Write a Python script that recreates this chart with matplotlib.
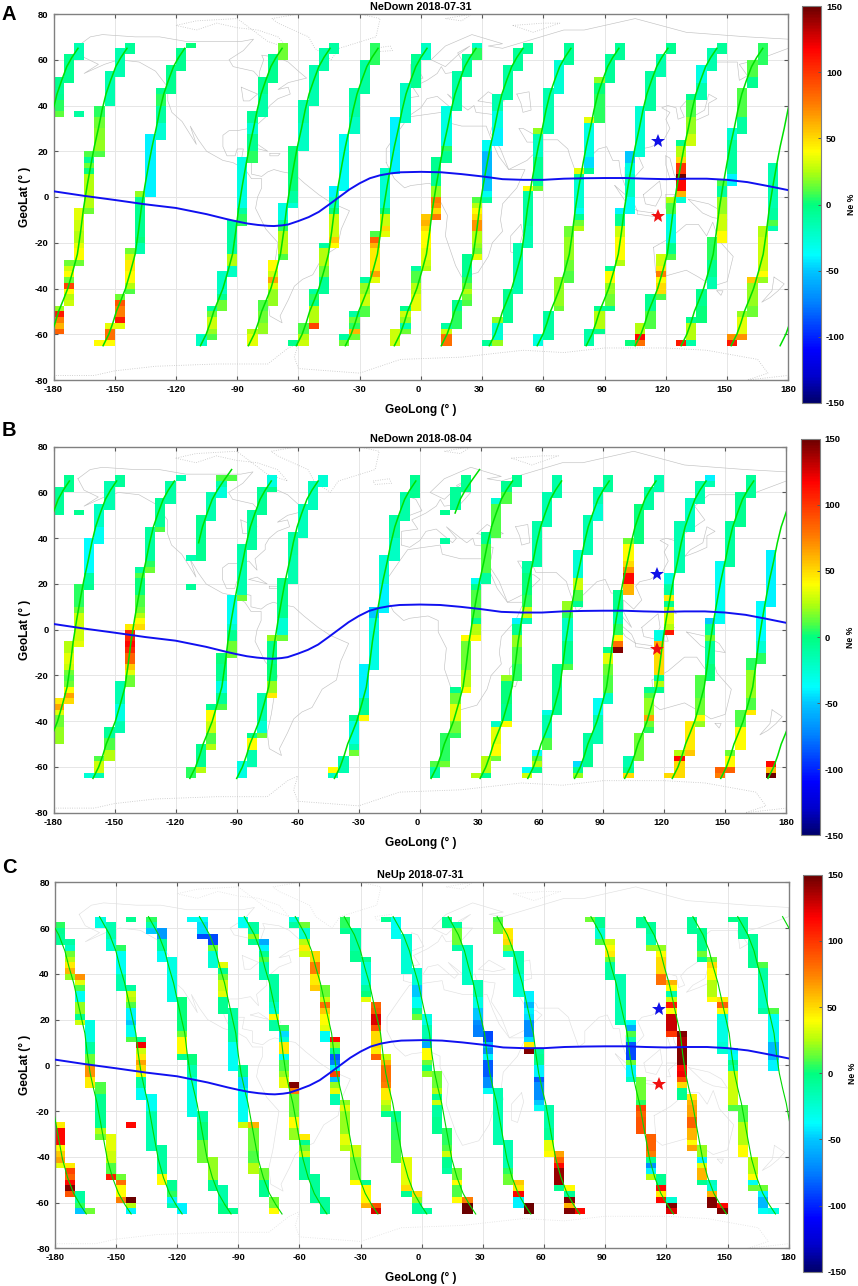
import numpy as np
import matplotlib
matplotlib.use('Agg')
import matplotlib.pyplot as plt
from matplotlib.colors import LinearSegmentedColormap
from matplotlib.transforms import ScaledTranslation

plt.rcParams['font.family'] = ['Liberation Sans', 'DejaVu Sans']
plt.rcParams['font.weight'] = 'bold'
plt.rcParams['axes.unicode_minus'] = False

# columns: (left longitude, top latitude, Ne % per 2.5 deg row going south)
ne_down_0731 = [
    (-180, 52.5, [-5, -5, -8, -5, 5, 5, 12]), (-180, -47.5, [20, 110, 75, 60, 85]),
    (-175, 62.5, [-5, -5, -5, -5, -5]), (-175, -27.5, [15, 30, 40, 15, 95, 40, 25, 30]),
    (-170, 67.5, [-15, -15, -15]), (-170, 37.5, [-10]), (-170, -5, [35, 35, 30, 30, 25, 25, 35, 40, 40, 15]),
    (-165, 20, [10, -5, 15, 0, 25, 25, 25, 25, 25, 25, 15]),
    (-160, 40, [5, 5, 15, 15, 18, 18, 20, 20, 10]), (-160, -62.5, [40]),
    (-155, 55, [-15, -15, -15, -15, -15, -15]), (-155, -55, [35, 80, 80, 40]),
    (-150, 65, [-15, -15, -15, -15, -15]), (-150, -42.5, [15, 90, 75, 75, 110, 35]),
    (-145, 67.5, [-8, -8]), (-145, -22.5, [15, 30, 45, 45, 40, 40, 25, 10]),
    (-140, 2.5, [20, -5, -5, -5, -5, -5, -5, -5, 0, -15, -15]),
    (-135, 27.5, [-40, -40, -40, -40, -40, -40, -40, -40, -40, -40, -40]),
    (-130, 47.5, [-5, 5, 5, -10, -10, -10, -25, -25, -25]),
    (-125, 57.5, [-5, -5, -5, -5, -5]), (-120, 65, [-5, -5, -5, -5]), (-115, 67.5, [0]),
    (-110, -60, [-20, -20]), (-105, -47.5, [-10, 15, 30, 30, 20, 10]),
    (-100, -32.5, [-20, -20, -20, -20, -5, 15, 15]),
    (-95, -10, [-10, -10, -10, -10, -10, -10, 25, 25, -20, -20]),
    (-90, 17.5, [-30, -30, -30, -30, -30, -30, -30, -30, -30, -10, 5, 5]),
    (-85, 37.5, [-8, -8, -25, -25, -5, -5, -5, 5, 5]), (-85, -57.5, [25, 35, 35]),
    (-80, 52.5, [-5, -5, -5, -12, -12, -12, -12]), (-80, -45, [10, 10, 15, 15, 20, 20]),
    (-75, 62.5, [-5, -5, -5, -5, -5]), (-75, -27.5, [40, 40, 30, 65, 35, 20, 20, 20]),
    (-70, 67.5, [15, 15, 15]), (-70, -2.5, [-30, -30, -30, -10, 5, 25, 25, 25, 25, 10]),
    (-65, 22.5, [0, 0, 0, 0, 0, 0, 0, 0, -10, -10, -25]), (-65, -62.5, [-5]),
    (-60, 42.5, [-15, -15, -15, -15, -20, -20, -20, -20, -20]), (-60, -55, [10, 10, 25, 30]),
    (-55, 57.5, [-15, -15, -15, -15, -15, -15, -15]), (-55, -40, [-10, 5, -5, 25, 25, 25, 95]),
    (-50, 65, [-12, -12, -12, -12]), (-50, -20, [-10, 25, 25, 25, 15, 15, -8, -8, -8]),
    (-45, 67.5, [-10, -10]), (-45, 5, [-40, -40, -20, -20, 0, 30, 30, 30, 30, 55, 40]),
    (-40, 27.5, [-35, -35, -35, -35, -35, -35, -35, -35, -35, -35]), (-40, -60, [-10, 15]),
    (-35, 47.5, [-12, -12, -12, -12, -12, -20, -20, -20]), (-35, -50, [-10, 15, 5, 60, 15]),
    (-30, 60, [-10, -10, -10, -10, -10, -10]), (-30, -35, [-10, 20, 20, 30, 30, 10, 10]),
    (-25, 67.5, [5, 5, 5, 5]), (-25, -15, [10, 85, 60, 45, 45, 45, 45, 65, 35]),
    (-20, 12.5, [-20, -20, -25, -25, -25, -25, -25, 0, 30, 30, 50, 35]),
    (-15, 35, [-40, -40, -40, -40, -40, -40, -40, -40, -40, -40]), (-15, -57.5, [30, 30, 30]),
    (-10, 50, [-20, -20, -20, -20, -20, -20, -20]), (-10, -47.5, [-5, 30, 20, -15, 15]),
    (-5, 62.5, [-5, -5, -5, -5, -5, -5]), (-5, -30, [-10, 10, 10, 25, 25, 35, 35, 35]),
    (0, 67.5, [-20, -20, -20]), (0, -7.5, [55, 60, 50, 40, 40, 40, 35, 35, 30, 25]),
    (5, 17.5, [-5, -5, -5, -5, -5, 20, 20, 75, 70, 50, 75]),
    (10, 40, [-30, -30, -30, -30, -30, -30, -30, 5, -5, -5]), (10, -55, [-10, 30, 80, 80]),
    (15, 55, [-12, -12, -12, -12, -12, -12, -12]), (15, -45, [-5, -5, 5, 5, 5]),
    (20, 62.5, [-8, -8, -8, -8]), (20, -25, [-5, -5, -5, -5, 5, 15, 25, 15, 10]),
    (25, 67.5, [-20, 5, 5]), (25, 0, [10, 25, 40, 50, 70, 70, 25, 25, 20, 15, 35]),
    (30, 25, [-35, -35, -55, -55, -55, -55, -55, -50, -50, -35, -10]), (30, -62.5, [-8]),
    (35, 45, [-15, -15, -15, -30, -30, -30, -40, -40, -40]), (35, -52.5, [20, -25, -25, -25, 20]),
    (40, 57.5, [-10, -10, -10, -10, -10, -10]), (40, -40, [-5, -5, -5, -5, -5, -5]),
    (45, 65, [-8, -8, -8, -8]), (45, -20, [-15, -15, -15, -15, -15, -15, -15, -15, -15]),
    (50, 67.5, [-8, -8]), (50, 5, [40, -10, -10, -10, -10, -10, -10, -15, -15, -15, -15]),
    (55, 30, [20, -15, -20, -20, -20, -5, -5, -5, -5, -5, 15]), (55, -60, [-30, -30]),
    (60, 47.5, [-15, -15, -15, -15, -15, -15, -15, -15]), (60, -50, [-10, -10, -10, -10, -10]),
    (65, 60, [-25, -25, -25, -25, -25, -25]), (65, -35, [20, 20, 20, 20, 20, 15]),
    (70, 67.5, [-8, -8, -8, -8]), (70, -12.5, [15, 15, 20, 20, 20, 20, 15, 15, 10, 10]),
    (75, 12.5, [35, -5, -25, -25, -25, -25, -25, -35, -5, 15, 25]),
    (80, 35, [35, -30, -30, -30, -30, -30, -30, -45, -45, -5]), (80, -57.5, [-12, -12, -12]),
    (85, 52.5, [20, 0, 0, 5, 5, 5, 5, 5]), (85, -47.5, [-5, 25, 25, 25, -5]),
    (90, 62.5, [-8, -8, -8, -8, -8]), (90, -30, [-5, 40, 40, 20, 20, 15, 15, -5]),
    (95, 67.5, [-8, -8, -8]), (95, -5, [-40, -5, -5, 30, 30, 40, 40, 40, 40, 25]),
    (100, 20, [-50, -50, -30, -30, -20, -20, -20, -20, -35, -35, -35]), (100, -62.5, [0]),
    (105, 40, [-25, -25, -25, -25, -25, -25, -25, -25, -25]), (105, -55, [25, 25, 115, 80]),
    (110, 55, [-10, -10, -10, -10, -10, -10, -10]), (110, -42.5, [-5, -5, -5, 10, 10, 10]),
    (115, 62.5, [-15, -15, -15, -15]), (115, -25, [30, 30, 45, 75, 40, 50, 50, 10]),
    (120, 67.5, [-5, -5]), (120, 0, [25, 10, 10, -30, -30, -30, -30, -30, -5, -5, 10]),
    (125, 25, [-5, 25, 25, 50, 100, 100, 150, 115, 115, 60, -25]), (125, -62.5, [110]),
    (130, 45, [-5, 10, 10, 10, 20, 20, 20, 30, 30]), (130, -52.5, [-5, 25, 25, 25, -12]),
    (135, 57.5, [-30, -30, -30, -15, -15, -15]), (135, -40, [-5, -5, -5, 0, 0, 0]),
    (140, 65, [-15, -15, -15, -15]), (140, -17.5, [5, 5, 5, 5, -5, -5, -5, -15, -15]),
    (145, 67.5, [-8, -8]), (145, 7.5, [10, -10, -10, 20, 20, 20, 30, 30, 30, 40, 40]),
    (150, 30, [-25, -25, -10, -10, -10, -10, -10, -10, -40, -40]), (150, -60, [70, 110]),
    (155, 47.5, [10, 10, 10, 10, 10, -10, -10, -10]), (155, -50, [20, 35, 35, 35, 70]),
    (160, 60, [10, 10, 10, -5, -5]), (160, -35, [55, 20, 20, 20, 20, 15, 15]),
    (165, 67.5, [5, 5, 5, 5]), (165, -12.5, [25, 25, 30, 30, 30, 30, 30, 30, 40, 20]),
    (170, 15, [-15, -15, -15, -15, -15, -15, -15, -15, -10, -10, 10, -15]),
]

ne_down_0804 = [
    (-180, 62.5, [-8, -8, -8, -8, -8]), (-180, -30, [45, 65, 35, 15, 15, 20, 20, 20]),
    (-175, 67.5, [-5, -5, -5]), (-175, -5, [25, 25, 35, 35, 30, 15, 10, 15, 40, 65, 50]),
    (-170, 52.5, [-5]), (-170, 20, [5, 5, 5, 5, 15, 30, 30, 30, 30, 30, 35]),
    (-165, 40, [-38, -38, -38, -38, -38, -38, -10, -10, -5]), (-165, -62.5, [-25]),
    (-160, 55, [-20, -20, -20, -20, -35, -35, -35]), (-160, -55, [10, 30, 30, -15]),
    (-155, 65, [-15, -15, -15, -15, -15]), (-155, -42.5, [-8, -8, 10, 10, 25, 25]),
    (-150, 67.5, [-8, -8]), (-150, -22.5, [-15, -15, -15, -15, -30, -30, -30, -15, -15]),
    (-145, 2.5, [45, 105, 105, 115, 105, 85, 85, 55, 35, 15, 15]),
    (-140, 27.5, [-10, 10, 0, 0, 0, 10, 10, 15, 25, 40, 50]),
    (-135, 45, [-10, -10, -10, -10, -10, -10, 5, 15]),
    (-130, 57.5, [-8, -8, -8, -8, -8, 10]), (-125, 65, [-12, -12, -12, -12]), (-120, 67.5, [-15]),
    (-115, 32.5, [-15]), (-115, 20, [-8]), (-115, -60, [5, 5]),
    (-110, 50, [-5, -5, -5, -5, -5, -5, -5, -5]), (-110, -50, [-5, -5, -5, -5, 25]),
    (-105, 60, [-15, -15, -15, -15, -15]), (-105, -32.5, [-5, 40, 40, 30, 30, 10, 10, 25]),
    (-100, 67.5, [10, -15, -28, -28]), (-100, -10, [0, 0, -5, -5, -5, -30, -30, -8, -8, 10]),
    (-95, 67.5, [10]), (-95, 15, [-35, -35, -35, -35, -35, -25, -5, -5, 15, 15, 15]),
    (-90, 37.5, [-10, -15, -15, -15, -15, -15, -15, -15, -15, 15]), (-90, -57.5, [-30, -30, -30]),
    (-85, 52.5, [-10, -10, -10, -10, -10, -10, -10]), (-85, -45, [-5, 40, 40, -15, -15, -15]),
    (-80, 62.5, [-8, -8, -8, -8, -8]), (-80, -27.5, [-15, -15, -15, -15, -15, -25, -25, 15]),
    (-75, 67.5, [-30, -30, -5]), (-75, -2.5, [20, -5, -5, -5, -5, 0, 0, 0, 20, 20, 45]),
    (-70, 22.5, [-5, -5, -5, -5, -5, -5, -5, -25, -25, -25, 15]),
    (-65, 42.5, [-12, -12, -12, -12, -15, -15, -15, -15, -15]),
    (-60, 55, [-18, -18, -18, -18, -18, -18]), (-55, 65, [-18, -18, -18, -18, -18]), (-50, 67.5, [-25, -25]),
    (-45, -60, [40, -20]), (-40, -55, [-15, -15, -15]),
    (-35, -37.5, [-5, -30, -30, -30, -30, -15, 15]),
    (-30, -15, [-40, -40, -40, -40, -40, -40, -10, -10, -5, 40]),
    (-25, 10, [-50, -50, -30, -30, -30, -30, -30, -30, -30, -30, -30]),
    (-20, 32.5, [-25, -25, -25, -25, -25, -40, -40, -40, -40, -40]),
    (-15, 50, [-12, -12, -12, -12, -20, -20, -20, -20]), (-10, 60, [-12, -12, -12, -12, -12]),
    (-5, 67.5, [-5, -5, -5, -5]), (5, -57.5, [10, -10, -10]),
    (10, 52.5, [-5]), (10, 40, [-10]), (10, -45, [5, 5, 5, 5, 5, 15]),
    (15, 62.5, [-8, -8, -8, -8]), (15, -25, [-5, 15, 15, 35, 35, 35, 15, 15, 5]),
    (20, 67.5, [-5, -5, -5]), (20, -2.5, [40, 15, 15, 15, 15, 15, 25, 25, 25, 40]),
    (25, 22.5, [-35, -5, 10, 10, 10, 10, 10, -5, 25, 25, 40]), (25, -62.5, [25]),
    (30, 42.5, [-5, -5, 10, 10, 10, 10, 10, -10, -10]), (30, -55, [25, 25, 25, -5]),
    (35, 57.5, [-25, 10, 10, 10, 10, 10, 10]), (35, -40, [-20, 35, 35, 35, 40, 40, 15]),
    (40, 65, [-5, -5, 10, 10]), (40, -20, [20, 0, 0, 0, 0, -5, -5, -5, 40]),
    (45, 67.5, [-5, -5]), (45, 5, [-40, -5, -5, 20, 20, 10, 10, 10, 5, 5, 5]),
    (50, 30, [-10, -10, 0, 0, 0, 0, 5, 5, 30, 30, -15]), (50, -60, [-35, 30]),
    (55, 47.5, [-12, -12, -12, -12, -12, -12, -12, -12]), (55, -52.5, [-35, 10, 25, -5]),
    (60, 60, [-15, -15, -15, -15, -15, -15]), (60, -35, [-30, -15, -15, -15, -15, 10, 10]),
    (65, 67.5, [-12, -12, -12, -12]), (65, -15, [-5, -5, -5, -5, -5, -5, -5, -5, -5]),
    (70, 12.5, [20, 20, 5, -20, -20, -20, -20, -5, -5, -5, -5, 10]),
    (75, 35, [-25, -25, -25, -25, -25, 30, 30, 10, 10, -5]), (75, -57.5, [-45, -5, 20]),
    (80, 50, [-15, -15, -15, -15, -15, -15, -15]), (80, -45, [-10, -10, -10, -5, -5, -5]),
    (85, 62.5, [-15, -15, -15, -25, -25, -25]), (85, -30, [-35, -35, -35, -15, -15, -15, -15, -15]),
    (90, 67.5, [-8, -8, -8]), (90, -7.5, [-5, 35, 35, 15, 15, 10, 10, 10, -20, -20]),
    (95, 17.5, [-5, -5, -5, -5, -15, -15, 5, 5, 40, 80, 145]),
    (100, 40, [15, 40, 40, 40, 50, 70, 115, 115, 60, 60]), (100, -55, [-15, -15, -5, 50]),
    (105, 55, [0, 0, 0, 0, 0, 0, 0]), (105, -45, [15, 15, 15, 15, 15]),
    (110, 62.5, [-10, -10, -10, -10]), (110, -25, [-5, 10, 20, 20, 20, 65, 15, 5]),
    (115, 67.5, [-15, -15, -15]), (115, 0, [-30, -30, 60, 50, 50, 50, 50, 50, -5, 25, -5]),
    (120, 25, [-30, -30, -10, -10, 45, -5, 30, 35, 35, 25, 110]), (120, -62.5, [50]),
    (125, 47.5, [-15, -15, -15, -15, -15, -15, -15, -15, -15]), (125, -52.5, [25, 115, 50, 50, 50]),
    (130, 57.5, [-20, -20, -20, -20, -20, -20]), (130, -40, [45, 45, 45, 45, 45, 55]),
    (135, 65, [-15, -15, -15, -15]), (135, -20, [10, 10, 10, 10, 15, 15, 15, 40, 20]),
    (140, 67.5, [-40, -15]), (140, 5, [-50, -8, -8, 15, -8, -8, -8, -8, 0, 0, 0]),
    (145, 30, [-35, -35, -35, -35, -35, -35, -35, -35, -35, -35, -35]), (145, -60, [85, 75]),
    (150, 47.5, [-10, -10, -10, -10, -10, -10, -10, -10]), (150, -52.5, [15, 40, 40, 85]),
    (155, 60, [-5, -5, -5, -5, -5, -5]), (155, -35, [10, 10, 10, 40, 40, 40, 40]),
    (160, 67.5, [-8, -8, -8, -8]), (160, -12.5, [5, 5, 20, 20, 20, 20, 20, 10, 10, 45]),
    (165, 12.5, [-38, -38, -38, -38, -38, -38, -38, -25, -25, 5, 5]),
    (170, 35, [-40, -40, -40, -40, -40, -40, -40, -40, -40, -40]), (170, -57.5, [115, 60, 150]),
]

ne_up_0731 = [
    (-180, 62.5, [5, -5, -8, -8]), (-180, -25, [45, 115, 115, 115, 40, 55, 65, 35]),
    (-175, 55, [-10, -20, 15, 25, 45, 60, 20]), (-175, -42.5, [45, 95, 85, 115, 145, 90]),
    (-170, 40, [70, 35, 10, -35, -35, 20, 20, -5, 30]), (-170, -55, [-10, -10, 5, -50]),
    (-165, 20, [-30, -30, -30, -30, -10, -10, 15, 15, 70, 70, 45, 45]), (-165, -62.5, [15]),
    (-160, 65, [-30, -30]), (-160, -7.5, [10, 10, -5, -5, -5, -5, -5, -5, 25, 15]),
    (-155, 62.5, [-15, -15, -15, -25, -25]), (-155, -30, [35, 35, 35, 30, 30, 10, 10, 110]),
    (-150, 52.5, [5, -35, -35, -35, -35, -15, -15, -15]), (-150, -47.5, [15, 80, 40, 40, 75]),
    (-145, 65, [-5]), (-145, 35, [-10, 30, 25, 10, -40, -40, -50, -35, -35, 10]),
    (-145, -25, [115]), (-145, -57.5, [150, 25, -40]),
    (-140, 12.5, [-5, 120, 30, 45, 65, 50, 40, -10, -10, -35, -35]),
    (-135, 65, [5, -15, -50]), (-135, -12.5, [-35, -35, -35, -15, -15, -15, -15, -15, -15, -15]),
    (-130, 60, [-65, -65, -10, -10, -35, -35]), (-130, -35, [-10, -10, -10, -10, -10, 40, 40]),
    (-125, 47.5, [-30, -30, -30, -30, -30, -30, -30, -30]), (-125, -50, [-5, -5, 5, -40, -15]),
    (-120, 30, [0, 0, 0, 0, 0, 0, 15, 40, 40, 40, -5]), (-120, -60, [-40, -40]),
    (-115, 65, [-35]), (-115, 5, [0, 0, -15, -15, -30, -30, -30, -30, -30, -30, -30]),
    (-110, 65, [-35, -45, -45, -90]), (-110, -20, [-10, -10, 0, 0, 0, 15, 15, 15, 15]),
    (-105, 57.5, [-90, -90, 15, -25, -25, -25]), (-105, -40, [20, 20, 20, 20, -5, -5]),
    (-100, 45, [35, -5, 15, 30, 30, 35, -5, -5, -5]), (-100, -52.5, [-12, -12, -12, -3, -3]),
    (-95, 25, [-10, -10, -10, -10, -10, -10, -35, -35, -35, -35, -35]), (-95, -62.5, [-5]),
    (-90, 65, [-35, -35]), (-90, 0, [-5, -5, -45, -45, -35, -35, -35, -35, -35, -35, 30]),
    (-85, 62.5, [-10, -10, 20, -5]), (-85, -25, [60, 15, 15, 15, 15, 10, 10, 25, 25]),
    (-80, 55, [-60, -40, -5, 10, -15, -15, -15]), (-80, -45, [15, 15, -5, -5, -5]),
    (-75, 40, [-10, -10, -10, -10, -10, -20, -25, 40, -10, -10]), (-75, -57.5, [15, 15, 40]),
    (-70, 17.5, [5, -45, -25, 45, 45, -35, 10, 10, 20, 35, 35]),
    (-65, 65, [-30, -10]), (-65, -7.5, [145, 75, 15, 15, 15, 15, 40, 40, 20, 20]),
    (-60, 62.5, [15, -25, -25, 25, 45, 30]), (-60, -30, [45, -5, 15, 30, -8, -8, -8, -8]),
    (-55, 50, [50, 50, 75, 75, 45, 45, 55]), (-55, -47.5, [-8, -8, -8, -8, -8]),
    (-50, 35, [15, 15, 30, 80, 55, 40, 40, 35, -35, -35]), (-50, -57.5, [-8, -8, -8]),
    (-45, 12.5, [115, 20, -5, -85, -75, -40, 95, -55, 20, 35, -15, -15]),
    (-40, 65, [5, 5, -5]), (-40, -15, [20, 35, 20, 20, 20, 20, 35, 35, 25]),
    (-35, 60, [-12, -12, -12, -12, -5, -5]), (-35, -35, [30, 30, 15, 15, 15, 15, 40]),
    (-30, 47.5, [-5, -25, -25, -25, -25, -10, 0, 35]), (-30, -50, [-5, 42, 42, 42, 60]),
    (-25, 27.5, [85, 90, 125, 125, 90, 50, 50, 50, 45, 85]), (-25, -60, [90, 125]),
    (-20, 65, [-5]), (-20, 5, [30, 60, 80, 80, 80, 75, 45, 45, 30, 20, -5]),
    (-15, 65, [-35, -35, -35, -35]), (-15, -20, [-5, -5, 5, 5, 5, 10, 10, 10, 10]),
    (-10, 57.5, [-25, -25, -25, -25, -25, -25, -25]), (-10, -40, [35, 35, 35, 35, 35, 50, -5]),
    (-5, 42.5, [-25, -25, -25, -50, -50, -35, -35, -5, 15]), (-5, -55, [50, 20, -8, -8]),
    (0, 22.5, [-30, -30, -15, -15, -10, -60, 40, 40, 15, -5, 20]), (0, -62.5, [-10]),
    (5, -2.5, [15, 15, 15, 25, -5, 30, -10, -10, -5, -5, -5]),
    (10, 65, [-5, -5]), (10, -27.5, [5, 5, 5, 10, 30, -5, -5, -10]),
    (15, 62.5, [-10, 15, 15, 15, -10]), (15, -45, [15, 15, 40, 10, 10, 40]),
    (20, 52.5, [-20, -20, -20, -20, -20, -20, -20]), (20, -57.5, [75, 150, 150]),
    (25, 37.5, [-15, -15, -15, -30, -30, -50, -50, -70, -75, -75]),
    (30, 15, [-90, -90, -55, -70, -40, -85, -85, -85, -70, -70, -35]),
    (35, 65, [10, 15, 15]), (35, -10, [-15, -15, -15, -15, -15, -15, -15, -15, -15, -15]),
    (40, 60, [45, 45, 50, 20, -20]), (40, -32.5, [-15, -15, -15, -15, -15, 5, 15, 15]),
    (45, 50, [-15, -15, -15, -15, -25, -25, -25, -25]), (45, -50, [55, 45, 115, -40, -40]),
    (50, 32.5, [-40, -40, -55, -40, -45, -70, -70, -70, -45, 45, 145]), (50, -60, [150, 150]),
    (55, 7.5, [-10, -5, -5, -40, -40, -85, -70, -70, -70, -50, -35]),
    (60, -17.5, [-12, -12, -12, -12, -8, -8, 35, 35, 40]),
    (65, -37.5, [65, 85, 115, 140, 140, 140, -5]), (70, -52.5, [40, -8, 145, 60, 145]),
    (75, -62.5, [115]), (80, 65, [15]), (85, 65, [-5, -5, -25, -25, 10]),
    (90, 55, [30, 40, 45, 15, -10, -10, -10]),
    (95, 40, [-15, -15, -15, -15, -15, -15, -15, -15, -15]),
    (100, 20, [-35, -60, 10, -15, -85, -90, -90, 15, -40, -40, -20]),
    (105, 65, [-8, -8]), (105, -5, [15, 15, 15, 15, 5, 95, 85, 90, 90, 90]),
    (110, 62.5, [-8, -8, -15, -15, 20]), (110, -30, [85, 85, 85, 75, -5, -70, -40, 25]),
    (115, 52.5, [20, 40, 50, 50, 50, 80, 80]), (115, -47.5, [-5, -5, 115, 45, 115]),
    (120, 37.5, [60, 40, -15, 30, 110, 40, 130, 130, 130, 100]), (120, -57.5, [-25, 145, 125]),
    (125, 15, [145, 135, 135, 145, 145, 145, 115, 120, 90, 50, -5, -5]),
    (130, 65, [-8, -8, -8]), (130, -12.5, [45, 60, 65, 65, 85, 85, 60, 60, 40, 65]),
    (135, 60, [-5, -5, -5, -5, 15, -5]), (135, -35, [20, 20, -40, 35, 60, 60, -5]),
    (140, 47.5, [15, 50, 40, 40, 25, 25, 25, 40]), (140, -50, [-20, -25, 60, 145, 145]),
    (145, 30, [45, 85, 40, -30, -30, -30, -30, -30, -25, -25]), (145, -60, [115, 145]),
    (150, 65, [-3]), (150, 7.5, [-40, -35, -5, -15, 30, 30, 30, 30, 30, 30, 10]),
    (155, 65, [-8, -8, -8, -8]), (155, -17.5, [10, 10, 10, 25, 25, 25, 25, 40, 40]),
    (160, 57.5, [-8, -8, -8, -5, -5, -5]), (160, -40, [25, 25, 25, 40, -35, 15]),
    (165, 45, [10, -10, -10, -20, -20, -20, -20, -20, -10]), (165, -52.5, [15, -40, -55, -55, -35]),
    (170, 25, [10, -35, -35, -35, -35, -35, -55, -55, -55, -40, -40]), (170, -62.5, [-30]),
]

up_lat = [-65, -60, -55, -50, -45, -40, -32, -25, -15, -5, 5, 15, 22, 30, 38, 45, 51, 57, 61, 65, 70]
up_lon = [0, 2.8, 4.8, 6.5, 8.8, 11, 13.6, 15.7, 17.3, 18.7, 20.5, 22.5, 24, 26, 27.8, 29.7, 32, 34.5, 37, 40, 44]
dn_lat = [65, 57, 50, 43, 36, 25, 14, 5, -3.5, -10, -16.6, -29, -41, -49, -56, -61, -65]
dn_lon = [0, 5, 8, 10, 12.3, 15, 17.8, 19, 20.4, 22, 23.8, 26.3, 28.8, 31.3, 34.3, 37.5, 40.5]
tracks_a = [-155.7, -108, -84.5, -61, -37, -13, 10, 33.5, 57, 81, 105, 127.5, 152, 176]
tracks_b = [-160.6, -113, -90, -42, 5.5, 29.6, 53, 76, 100.6, 124, 147.8, 171]
partial_b = [(-136.5, 33), (-14.7, 47)]
tracks_c = [-183, -158, -134, -109, -87, -62, -38, -14, 13, 37, 83, 109, 133, 155]

mag_eq_lon = [-180, -165, -150, -135, -120, -105, -95, -90, -85, -80, -75, -72, -68, -65, -60, -55, -50, -45, -40, -35,
              -30, -25, -20, -15, -10, 0, 10, 20, 30, 40, 50, 60, 70, 80, 90, 100, 110, 120, 130, 140, 150, 160, 170, 180]
mag_eq_lat = [2.5, 0.5, -1.3, -3.2, -4.8, -7.5, -9.7, -10.7, -11.6, -12.2, -12.6, -12.7, -12.4, -12, -10.5, -8.8, -6.5,
              -3.3, 0, 3.3, 6, 8.2, 9.5, 10.3, 10.8, 11, 10.8, 10, 9, 7.8, 7.5, 7.5, 8, 8.2, 8.3, 8.3, 8, 7.8, 8, 8, 7.5,
              6.5, 4.8, 3]
star_lon = 116.4
star_blue_lat = 24.4
star_red_lat = -8.3

americas = [(-168, 66), (-162, 70), (-156, 71), (-140, 70), (-128, 70), (-115, 68), (-108, 68), (-95, 68), (-88, 68),
            (-82, 69), (-87, 64), (-94, 60), (-92, 57), (-82, 55), (-79, 52), (-79, 55), (-77, 60), (-78, 62), (-70, 61),
            (-65, 59), (-60, 55), (-56, 52), (-65, 50), (-70, 47), (-65, 48), (-64, 45), (-70, 43), (-74, 40), (-76, 37),
            (-76, 35), (-81, 31), (-80, 26), (-82, 28), (-84, 30), (-90, 29), (-94, 29), (-97, 27), (-97, 22), (-95, 18),
            (-91, 18), (-90, 21), (-87, 21), (-88, 16), (-83, 15), (-83, 10), (-78, 9), (-75, 11), (-72, 12), (-68, 11),
            (-62, 10), (-57, 6), (-50, 1), (-44, -2.5), (-35, -6), (-39, -14), (-41, -22), (-48, -26), (-53, -34),
            (-58, -36), (-62, -39), (-65, -45), (-69, -52), (-68, -55), (-74, -52), (-75, -45), (-73, -37), (-70, -20),
            (-76, -14), (-81, -5), (-80, 0), (-78, 4), (-78, 8), (-83, 8), (-86, 12), (-92, 15), (-97, 16), (-105, 20),
            (-109, 25), (-113, 31), (-110, 23), (-117, 33), (-122, 37), (-124, 42), (-124, 48), (-130, 55), (-138, 59),
            (-148, 60), (-155, 58), (-165, 54), (-158, 58), (-165, 61), (-168, 66)]
africa = [(-17, 15), (-17, 21), (-10, 30), (-6, 35), (10, 37), (11, 33), (20, 31), (32, 31), (35, 24), (38, 18), (43, 12),
          (51, 12), (47, 4), (40, -3), (39, -10), (40, -15), (35, -20), (33, -26), (28, -33), (20, -35), (17, -30),
          (12, -17), (13, -8), (9, -1), (9, 4), (4, 6), (-5, 5), (-8, 4), (-13, 8), (-17, 15)]
eurasia = [(-9, 37), (-9, 43), (-1, 44), (-4, 48), (3, 51), (8, 54), (10, 57), (12, 54), (20, 55), (25, 60), (20, 60),
           (18, 63), (24, 66), (18, 62), (12, 57), (5, 60), (12, 66), (25, 71), (40, 67), (33, 66), (40, 65), (55, 69),
           (70, 73), (80, 73), (105, 78), (130, 72), (160, 70), (180, 69), (180, 65), (165, 60), (156, 58), (160, 53),
           (156, 51), (155, 59), (142, 59), (135, 54), (140, 48), (130, 42), (127, 39), (129, 35), (126, 34), (125, 39),
           (121, 40), (118, 39), (122, 37), (120, 34), (122, 30), (119, 25), (113, 22), (108, 21), (106, 19), (109, 13),
           (105, 9), (100, 13), (100, 8), (104, 1), (100, 5), (98, 10), (97, 16), (94, 16), (91, 22), (87, 21), (80, 15),
           (80, 10), (77, 8), (73, 18), (72, 21), (67, 25), (57, 25), (56, 27), (50, 30), (48, 30), (52, 24), (56, 24),
           (59, 22), (52, 16), (43, 12), (39, 21), (34, 28), (35, 31), (36, 36), (27, 37), (26, 40), (23, 38), (20, 40),
           (13, 45), (18, 40), (16, 38), (8, 44), (3, 43), (0, 39), (-5, 36), (-9, 37)]
australia = [(114, -22), (122, -18), (130, -12), (136, -12), (140, -17), (143, -11), (146, -19), (153, -26), (150, -37),
             (143, -39), (136, -35), (130, -32), (118, -35), (115, -33), (114, -22)]
islands = [
    [(145, -41), (148, -41), (147, -43), (145, -41)],
    [(173, -35), (178, -38), (175, -41), (171, -44), (167, -46), (172, -41), (173, -35)],
    [(49, -12), (50, -16), (47, -25), (44, -24), (44, -17), (49, -12)],
    [(95, 5), (104, -2), (106, -6), (101, -3), (95, 5)],
    [(109, 1), (117, 7), (118, 1), (115, -4), (110, -3), (109, 1)],
    [(106, -6), (114, -7), (114, -8.5), (106, -7.5), (106, -6)],
    [(120, 1), (125, 1), (121, -2), (122, -5), (120, -5), (120, 1)],
    [(131, -1), (141, -3), (147, -6), (150, -10), (143, -9), (138, -7), (131, -1)],
    [(120, 18), (122, 17), (124, 10), (126, 7), (122, 8), (120, 14), (120, 18)],
    [(130, 32), (136, 34), (141, 36), (141, 41), (145, 43), (141, 45), (139, 38), (133, 35), (130, 32)],
    [(-5, 50), (1, 52), (-2, 57), (-5, 58), (-5, 54), (-5, 50)],
    [(-84, 22), (-75, 20), (-80, 23), (-84, 22)],
    [(-74, 19), (-69, 19), (-70, 18), (-74, 18), (-74, 19)],
    [(47, 45), (53, 46), (54, 38), (50, 37), (49, 41), (47, 45)],
    [(28, 42), (33, 46), (41, 42), (35, 41), (28, 42)],
    [(-88, 48), (-80, 45), (-84, 42), (-87, 42), (-88, 48)],
]
# dotted coasts at high latitude
greenland = [(-73, 78), (-60, 80), (-30, 80), (-20, 78), (-22, 70), (-40, 65), (-44, 60), (-52, 65), (-55, 70), (-70, 76), (-73, 78)]
arctic_isles = [(-120, 75), (-110, 73), (-100, 76), (-90, 74), (-80, 73), (-70, 70), (-65, 65), (-75, 68), (-90, 78), (-110, 77), (-120, 75)]
iceland = [(-23, 65), (-15, 66), (-14, 64), (-22, 63.5), (-23, 65)]
svalbard = [(12, 78), (25, 80), (20, 77), (12, 78)]
siberia_top = [(45, 75), (55, 72), (68, 76), (60, 76), (45, 75)]
antarctica = [(-180, -78), (-160, -78), (-150, -76), (-130, -74), (-100, -73), (-75, -73), (-65, -66), (-60, -64), (-62, -70),
              (-60, -75), (-30, -77), (-10, -71), (20, -70), (50, -67), (70, -68), (90, -66), (120, -66), (140, -67),
              (165, -71), (170, -77), (160, -80), (180, -78)]

xtick_vals = [-180, -150, -120, -90, -60, -30, 0, 30, 60, 90, 120, 150, 180]
ytick_vals = [-80, -60, -40, -20, 0, 20, 40, 60, 80]
cbar_ticks = [-150, -100, -50, 0, 50, 100, 150]

titles = ['NeDown 2018-07-31', 'NeDown 2018-08-04', 'NeUp 2018-07-31']
letters = ['A', 'B', 'C']

W, H = 858, 1286
cmap = LinearSegmentedColormap.from_list('ne', [
    (0.0, (0, 0, 0.42)), (20 / 300, (0, 0, 0.8)), (40 / 300, (0, 0, 1)), (75 / 300, (0, 0.5, 1)),
    (100 / 300, (0, 0.78, 1)), (112 / 300, (0, 1, 1)), (130 / 300, (0, 1, 0.76)), (150 / 300, (0, 1, 0.5)),
    (160 / 300, (0.3, 1, 0.27)), (175 / 300, (0.7, 1, 0.05)), (190 / 300, (1, 1, 0)), (225 / 300, (1, 0.5, 0)),
    (268 / 300, (1, 0, 0)), (1.0, (0.42, 0, 0))], N=256)


def px_axes(fig, x0, y0, x1, y1):
    return fig.add_axes([x0 / W, 1 - y1 / H, (x1 - x0) / W, (y1 - y0) / H])


def fill_grid(columns):
    grid = np.full((64, 72), np.nan)
    for lon, top, values in columns:
        i = int((lon + 180) / 5)
        j = int((top + 80) / 2.5) - 1
        for v in values:
            grid[j, i] = v
            j -= 1
    return np.ma.masked_invalid(grid)


def draw_wrapped(ax, lon, lat, **kw):
    lon = np.asarray(lon, dtype=float)
    for shift in (-360, 0, 360):
        ax.plot(lon + shift, lat, **kw)


def draw_coast(ax, col):
    for shape in [americas, africa, eurasia, australia] + islands:
        x, y = zip(*shape)
        ax.plot(x, y, color=col, lw=0.45, zorder=1)
    for shape in [greenland, arctic_isles, iceland, svalbard, siberia_top, antarctica]:
        x, y = zip(*shape)
        ax.plot(x, y, color=col, lw=0.6, ls=(0, (1, 1.8)), zorder=1)


def panel(fig, box, cbox, letter_y, title_y, label_x, columns, coast_col):
    ax = px_axes(fig, *box)
    lon_edges = np.arange(-180, 181, 5)
    lat_edges = np.arange(-80, 80.1, 2.5)
    ax.pcolormesh(lon_edges, lat_edges, fill_grid(columns), cmap=cmap, vmin=-150, vmax=150, zorder=2,
                  linewidth=0, rasterized=True)
    draw_coast(ax, coast_col)
    ax.set_xlim(-180, 180)
    ax.set_ylim(-80, 80)
    ax.set_xticks(xtick_vals)
    ax.set_yticks(ytick_vals)
    ax.grid(color='0.9', lw=0.7, zorder=0)
    ax.set_axisbelow(True)
    ax.tick_params(direction='in', top=True, right=True, length=3, width=0.8, color='0.35',
                   labelsize=6.8, pad=3.5)
    for lab, v in zip(ax.get_xticklabels(), xtick_vals):
        if v >= 0 and v < 180:
            lab.set_transform(lab.get_transform() + ScaledTranslation(-3 / 100, 0, fig.dpi_scale_trans))
    for s in ax.spines.values():
        s.set_color('0.5')
        s.set_linewidth(1.0)
    ax.plot(mag_eq_lon, mag_eq_lat, color='#1010f0', lw=1.4, zorder=5)
    ax.plot(star_lon, star_blue_lat, marker='*', color='#1010e8', ms=10, mew=0, zorder=6)
    ax.plot(star_lon, star_red_lat, marker='*', color='#f01010', ms=10, mew=0, zorder=6)

    fig.text(2 / W, 1 - letter_y / H, letters[panel.n], fontsize=14.5, va='center', ha='left')
    fig.text(420.5 / W, 1 - title_y / H, titles[panel.n], fontsize=7.8, va='center', ha='center')
    fig.text(420.5 / W, 1 - (box[3] + 30) / H, 'GeoLong (° )', fontsize=8.6, va='center', ha='center')
    fig.text(25 / W, 1 - (box[1] + box[3]) / 2 / H, 'GeoLat (° )', fontsize=8.6, va='center', ha='center',
             rotation=90)

    cax = px_axes(fig, *cbox)
    sm = plt.cm.ScalarMappable(norm=plt.Normalize(-150, 150), cmap=cmap)
    cb = fig.colorbar(sm, cax=cax)
    cb.set_ticks(cbar_ticks)
    cb.ax.tick_params(direction='in', length=2, width=0.7, color='0.35', labelsize=6.8, pad=3.5)
    cb.outline.set_edgecolor('0.5')
    cb.outline.set_linewidth(0.8)
    fig.text(label_x / W, 1 - (cbox[1] + cbox[3]) / 2 / H, 'Ne %', fontsize=6.2, rotation=90,
             va='center', ha='center')
    panel.n += 1
    return ax


panel.n = 0
fig = plt.figure(figsize=(W / 100, H / 100), dpi=100)

ax_a = panel(fig, (53.5, 14, 788.3, 380), (802.3, 6, 821, 403), 14, 6.5, 851.7, ne_down_0731, '0.76')
for start in tracks_a:
    draw_wrapped(ax_a, np.array(up_lon[:-1]) + start, up_lat[:-1], color='#00e000', lw=1.1, zorder=4)

ax_b = panel(fig, (53.5, 446.7, 786.3, 812.7), (800.7, 438.7, 819.7, 835.3), 430, 439, 850.7, ne_down_0804, '0.76')
for start in tracks_b:
    draw_wrapped(ax_b, np.array(up_lon[:-1]) + start, up_lat[:-1], color='#00e000', lw=1.1, zorder=4)
for start, low in partial_b:
    keep = np.array(up_lat) >= low
    draw_wrapped(ax_b, np.array(up_lon)[keep] + start, np.array(up_lat)[keep], color='#00e000', lw=1.1, zorder=4)

ax_c = panel(fig, (54.7, 882.3, 788.7, 1248.3), (803, 874.7, 822.3, 1271.7), 867.5, 875, 852.7, ne_up_0731, '0.88')
for start in tracks_c:
    draw_wrapped(ax_c, np.array(dn_lon) + start, dn_lat, color='#00d800', lw=0.8, zorder=4)

fig.savefig('out.png', dpi=100)
